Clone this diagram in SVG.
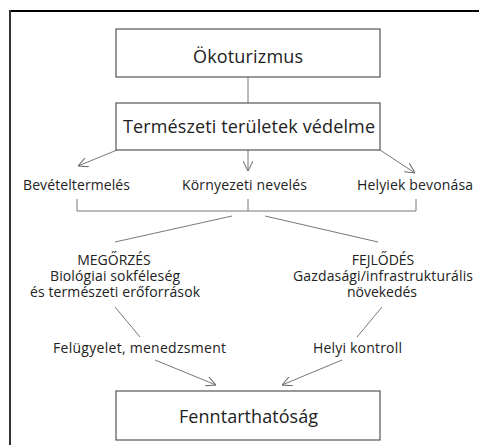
<svg xmlns="http://www.w3.org/2000/svg" width="479" height="445" viewBox="0 0 479 445">
<defs>
<marker id="arr" viewBox="0 0 10 10" refX="10" refY="5" markerWidth="10" markerHeight="10" markerUnits="userSpaceOnUse" orient="auto">
<path d="M0,0 L10,5 L0,10" fill="none" stroke="#666" stroke-width="1"/>
</marker>
<style>
.box{fill:#fff;stroke:#555;stroke-width:1.2}
.t{font-family:"Open Sans","Noto Sans","DejaVu Sans",sans-serif;fill:#222;text-anchor:middle}
.big{font-size:18px}
.sm{font-size:14px}
.ln{stroke:#777;stroke-width:1;fill:none}
</style>
</defs>
<rect width="479" height="445" fill="#fff"/>
<g id="frame">
<line x1="9" y1="11" x2="479" y2="11" stroke="#000" stroke-width="2"/>
<line x1="10" y1="10" x2="10" y2="445" stroke="#333" stroke-width="2"/>
</g>
<g id="connectors">
<line class="ln" x1="248" y1="77" x2="248" y2="103"/>
<line class="ln" x1="117" y1="150" x2="78" y2="166" marker-end="url(#arr)"/>
<line class="ln" x1="248" y1="150" x2="248" y2="171" marker-end="url(#arr)"/>
<line class="ln" x1="380" y1="150" x2="415" y2="173" marker-end="url(#arr)"/>
<path class="ln" d="M77,199 V211 H416 V199 M248,199 V211"/>
<line class="ln" x1="232" y1="216" x2="115" y2="242"/>
<line class="ln" x1="265" y1="216" x2="378" y2="242"/>
<line class="ln" x1="115" y1="307" x2="140" y2="337"/>
<line class="ln" x1="382" y1="307" x2="357" y2="337"/>
<line class="ln" x1="155" y1="360" x2="216" y2="385" marker-end="url(#arr)"/>
<line class="ln" x1="342" y1="360" x2="282" y2="385" marker-end="url(#arr)"/>
</g>
<g id="okoturizmus">
<rect class="box" x="116" y="29" width="264" height="48"/>
<text class="t big" x="248" y="63" textLength="110">Ökoturizmus</text>
</g>
<g id="vedelme">
<rect class="box" x="116" y="103" width="264" height="47"/>
<text class="t big" x="249" y="133" textLength="252">Természeti területek védelme</text>
</g>
<g id="beveteltermeles"><text class="t sm" x="76.5" y="190" textLength="107">Bevételtermelés</text></g>
<g id="kornyezeti"><text class="t sm" x="244.5" y="190" textLength="125">Környezeti nevelés</text></g>
<g id="helyiek"><text class="t sm" x="415" y="190" textLength="116">Helyiek bevonása</text></g>
<g id="megorzes">
<text class="t sm" x="114" y="265">MEGŐRZÉS</text>
<text class="t sm" x="115" y="281" textLength="130">Biológiai sokféleség</text>
<text class="t sm" x="115" y="297" textLength="170">és természeti erőforrások</text>
</g>
<g id="fejlodes">
<text class="t sm" x="383" y="265">FEJLŐDÉS</text>
<text class="t sm" x="383" y="281" textLength="180">Gazdasági/infrastrukturális</text>
<text class="t sm" x="382" y="297" textLength="70">növekedés</text>
</g>
<g id="felugyelet"><text class="t sm" x="139.5" y="353" textLength="173">Felügyelet, menedzsment</text></g>
<g id="helyi"><text class="t sm" x="357.5" y="353" textLength="89">Helyi kontroll</text></g>
<g id="fenntarthatosag">
<rect class="box" x="116" y="391" width="264" height="49"/>
<text class="t big" x="248.5" y="423" textLength="139">Fenntarthatóság</text>
</g>
</svg>
